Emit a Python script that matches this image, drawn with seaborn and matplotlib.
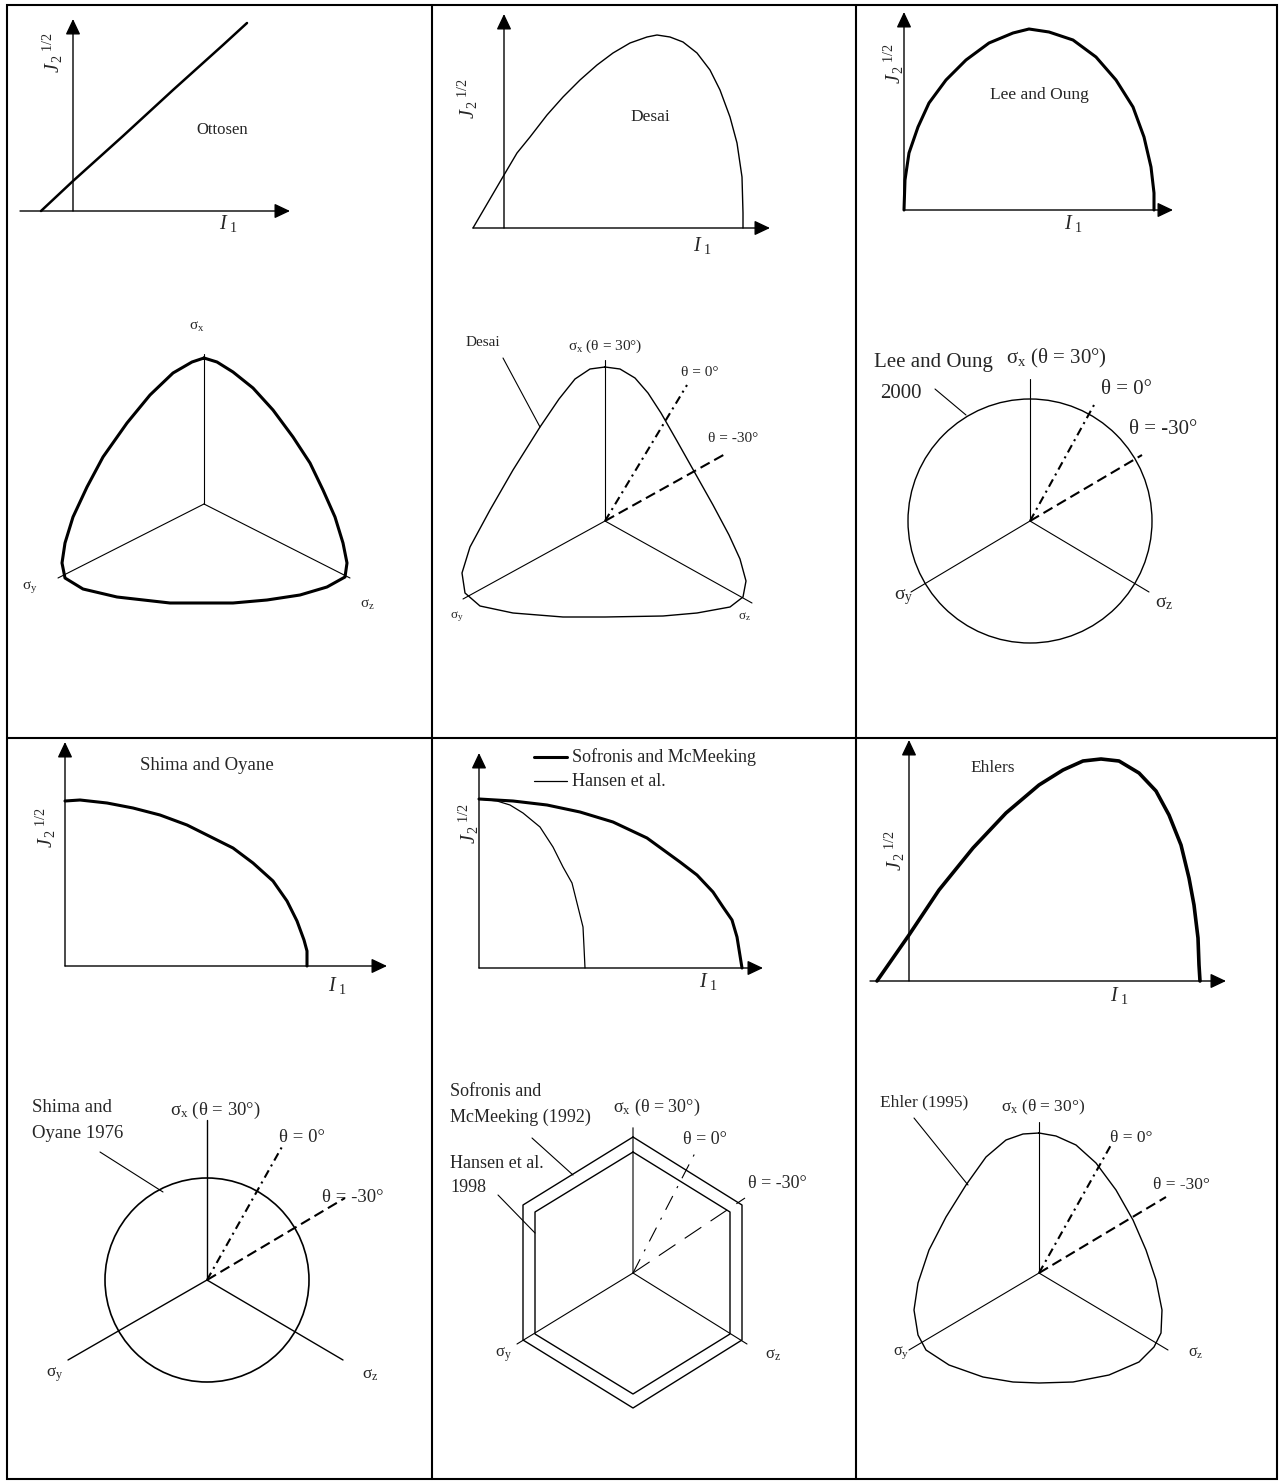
import matplotlib
matplotlib.use("Agg")
import matplotlib.pyplot as plt
from matplotlib.patches import Circle, Rectangle
import seaborn as sns

W, H = 1283, 1484
DPI = 100

sns.set_style("white")
plt.rcParams["font.family"] = ["Liberation Serif", "DejaVu Serif"]
plt.rcParams["mathtext.fontset"] = "custom"
plt.rcParams["mathtext.rm"] = "Liberation Serif"
plt.rcParams["mathtext.it"] = "Liberation Serif:italic"
plt.rcParams["mathtext.bf"] = "Liberation Serif:bold"

# ---------------------------------------------------------------------------
# Meridian traces (I1, sqrt(J2)) for each criterion
# ---------------------------------------------------------------------------
ottosen_i1 = [-32, 0, 50, 100, 150, 174]
ottosen_j2 = [0, 30, 75, 121, 166, 188]

desai_i1 = [-31, 0, 13, 26, 43, 59, 76, 93, 109, 126, 143, 153, 166, 179, 193, 206, 216, 226, 233, 238, 239, 239]
desai_j2 = [0, 53, 75, 91, 113, 131, 148, 163, 175, 185, 191, 193, 191, 186, 175, 158, 138, 111, 85, 51, 15, 0]

lee_i1 = [0, 1, 5, 14, 25, 42, 62, 85, 109, 125, 145, 169, 192, 212, 229, 240, 247, 250, 250]
lee_j2 = [0, 30, 57, 83, 107, 130, 150, 167, 177, 181, 178, 170, 153, 130, 103, 73, 43, 17, 0]

shima_i1 = [0, 15, 42, 68, 95, 122, 148, 168, 188, 208, 222, 232, 239, 242, 242]
shima_j2 = [165, 166, 163, 158, 151, 141, 128, 118, 103, 85, 65, 45, 26, 15, 0]

sofronis_i1 = [0, 34, 68, 101, 134, 168, 201, 218, 234, 244, 253, 258, 263]
sofronis_j2 = [169, 167, 163, 156, 146, 130, 106, 93, 76, 61, 48, 31, 0]

hansen_i1 = [0, 18, 31, 44, 61, 74, 84, 93, 99, 104, 105, 106]
hansen_j2 = [169, 167, 163, 155, 141, 121, 101, 85, 61, 41, 21, 0]

ehlers_i1 = [-32, -16, 0, 30, 64, 97, 130, 154, 174, 192, 210, 230, 247, 260, 272, 280, 285, 289, 290, 291]
ehlers_j2 = [0, 23, 46, 91, 133, 168, 196, 211, 220, 222, 220, 208, 190, 166, 136, 103, 76, 43, 16, 0]

# ---------------------------------------------------------------------------
# Deviatoric (pi-plane) traces, closed loops
# ---------------------------------------------------------------------------
ottosen_px = [0, 13, 29, 49, 69, 89, 106, 119, 131, 139, 143, 141, 123, 96, 63, 29, 0,
              -34, -87, -121, -139, -142, -139, -131, -117, -101, -77, -54, -31, -12, 0]
ottosen_py = [146, 142, 132, 116, 94, 67, 41, 14, -13, -39, -59, -73, -83, -91, -96, -99, -99,
              -99, -93, -85, -74, -59, -39, -13, 17, 47, 81, 109, 131, 142, 146]

desai_px = [0, 15, 30, 43, 56, 72, 90, 108, 124, 135, 141, 138, 125, 92, 58, 0,
            -42, -92, -125, -140, -143, -135, -115, -92, -65, -46, -30, -15, 0]
desai_py = [154, 152, 143, 128, 108, 80, 48, 16, -14, -38, -60, -76, -86, -92, -95, -96,
            -96, -92, -85, -72, -52, -26, 11, 51, 94, 122, 142, 152, 154]

ehlers_px = [0, 17, 37, 57, 77, 94, 107, 117, 123, 122, 115, 100, 70, 34, 0,
             -26, -56, -90, -113, -121, -125, -121, -110, -93, -73, -53, -33, -16, 0]
ehlers_py = [140, 137, 128, 110, 83, 53, 23, -7, -37, -60, -74, -89, -102, -109, -110,
             -109, -104, -92, -77, -62, -37, -10, 23, 56, 88, 116, 133, 139, 140]

lee_radius = 122
shima_radius = 102

sofronis_hex_x = [0, 109, 109, 0, -110, -110, 0]
sofronis_hex_y = [136, 68, -67, -135, -67, 68, 136]
hansen_hex_x = [0, 97, 97, 0, -98, -98, 0]
hansen_hex_y = [121, 61, -61, -121, -61, 61, 121]

# principal stress axes and Lode-angle rays: (sigma_x, sigma_y, sigma_z, theta=0, theta=-30)
ottosen_rays = [(0, 150), (-146, -74), (146, -74)]
desai_rays = [(0, 161), (-142, -78), (147, -82), (82, 136), (122, 68)]
lee_rays = [(0, 142), (-119, -71), (119, -71), (64, 116), (112, 66)]
shima_rays = [(0, 160), (-139, -80), (136, -80), (76, 135), (138, 82)]
sofronis_rays = [(0, 145), (-116, -71), (114, -71), (62, 120), (112, 75)]
ehlers_rays = [(0, 151), (-130, -77), (129, -77), (72, 128), (127, 76)]

SIGMA_X = r"σ$_{\mathrm{x}}$"
SIGMA_Y = r"σ$_{\mathrm{y}}$"
SIGMA_Z = r"σ$_{\mathrm{z}}$"
SIGMA_X_FULL = r"σ$_{\mathrm{x}}$ (θ = 30°)"
THETA_0 = "θ = 0°"
THETA_M30 = "θ = -30°"
I1_LABEL = r"$I_{\,\,1}$"
J2_LABEL = r"$J_{\,2}{}^{\ 1/2}$"

fig = plt.figure(figsize=(W / DPI, H / DPI), dpi=DPI, facecolor="white")

# table grid
frame = fig.add_axes([0, 0, 1, 1])
frame.set_xlim(0, W)
frame.set_ylim(H, 0)
frame.set_axis_off()
frame.add_patch(Rectangle((7, 5), 1270, 1474, fill=False, lw=1.5, ec="k"))
for xv in (432, 856):
    frame.plot([xv, xv], [5, 1479], color="k", lw=1.5)
frame.plot([7, 1277], [738, 738], color="k", lw=1.5)


def panel(box, origin):
    left, top, right, bottom = box
    ox, oy = origin
    ax = fig.add_axes([left / W, 1 - bottom / H, (right - left) / W, (bottom - top) / H])
    ax.set_xlim(left - ox, right - ox)
    ax.set_ylim(oy - bottom, oy - top)
    ax.set_axis_off()
    return ax


ARROW = dict(arrowstyle="-|>,head_length=0.95,head_width=0.45", color="k", lw=1.0,
             shrinkA=0, shrinkB=0, mutation_scale=10)


def meridian(ax, x_start, x_tip, y_tip, i1_pos, j2_pos):
    ax.annotate("", xy=(x_tip, 0), xytext=(x_start, 0), arrowprops=ARROW, annotation_clip=False)
    ax.annotate("", xy=(0, y_tip), xytext=(0, 0), arrowprops=ARROW, annotation_clip=False)
    ax.text(*i1_pos, I1_LABEL, ha="center", va="center", fontsize=14.5)
    ax.text(*j2_pos, J2_LABEL, ha="center", va="center", fontsize=14.5, rotation=90)


def curve(ax, x, y, lw):
    sns.lineplot(x=x, y=y, sort=False, estimator=None, color="k", lw=lw, ax=ax, legend=False)


def rays(ax, r, lw_axes=0.8, lw_theta=1.5, thin_theta=False, x_color="k"):
    ax.plot([0, r[0][0]], [0, r[0][1]], color=x_color, lw=lw_axes if x_color == "k" else 1.2)
    for (x, y) in r[1:3]:
        ax.plot([0, x], [0, y], color="k", lw=lw_axes)
    if len(r) > 3:
        if thin_theta:
            ax.plot([0, r[3][0]], [0, r[3][1]], color="k", lw=0.8, ls=(0, (14, 8, 2, 8)))
            ax.plot([0, r[4][0]], [0, r[4][1]], color="k", lw=0.8, ls=(0, (18, 10)))
        else:
            ax.plot([0, r[3][0]], [0, r[3][1]], color="k", lw=lw_theta, ls=(0, (4, 2.2, 1, 2.2)))
            ax.plot([0, r[4][0]], [0, r[4][1]], color="k", lw=lw_theta, ls=(0, (5, 2.5)))


# ---------------- Row 1 ----------------
# Ottosen meridian
ax = panel((10, 8, 430, 300), (73, 211))
meridian(ax, -53, 217, 192, (155, -12), (-20, 158))
curve(ax, ottosen_i1, ottosen_j2, 1.8)
ax.text(149, 81, "Ottosen", ha="center", va="center", fontsize=12)

# Desai meridian
ax = panel((434, 8, 854, 300), (504, 228))
meridian(ax, -31, 266, 214, (198, -18), (-36, 129))
curve(ax, desai_i1, desai_j2, 1.0)
ax.text(146, 111, "Desai", ha="center", va="center", fontsize=12.5)

# Lee and Oung meridian
ax = panel((858, 8, 1276, 300), (904, 210))
meridian(ax, 0, 269, 198, (169, -14), (-10, 146))
curve(ax, lee_i1, lee_j2, 2.2)
ax.text(135, 115, "Lee and Oung", ha="center", va="center", fontsize=12.5)

# Ottosen deviatoric
ax = panel((10, 300, 430, 735), (204, 504))
rays(ax, ottosen_rays)
curve(ax, ottosen_px, ottosen_py, 2.2)
ax.text(-7, 177, SIGMA_X, ha="center", va="center", fontsize=11)
ax.text(-174, -83, SIGMA_Y, ha="center", va="center", fontsize=11)
ax.text(163, -101, SIGMA_Z, ha="center", va="center", fontsize=11)

# Desai deviatoric
ax = panel((434, 300, 854, 735), (605, 521))
rays(ax, desai_rays)
curve(ax, desai_px, desai_py, 1.0)
ax.text(0, 175, SIGMA_X_FULL, ha="center", va="center", fontsize=11)
ax.text(95, 149, THETA_0, ha="center", va="center", fontsize=11)
ax.text(128, 83, THETA_M30, ha="center", va="center", fontsize=11)
ax.text(-122, 178, "Desai", ha="center", va="center", fontsize=11)
ax.plot([-102, -65], [163, 94], color="k", lw=0.8)
ax.text(-148, -96, SIGMA_Y, ha="center", va="center", fontsize=9.5)
ax.text(140, -96, SIGMA_Z, ha="center", va="center", fontsize=9.5)

# Lee and Oung deviatoric
ax = panel((858, 300, 1276, 735), (1030, 521))
rays(ax, lee_rays)
ax.add_patch(Circle((0, 0), lee_radius, fill=False, ec="k", lw=1.0))
ax.text(26, 163, SIGMA_X_FULL, ha="center", va="center", fontsize=15)
ax.text(-97, 158, "Lee and Oung", ha="center", va="center", fontsize=15)
ax.text(-129, 128, "2000", ha="center", va="center", fontsize=15)
ax.plot([-95, -64], [132, 106], color="k", lw=0.8)
ax.text(96, 131, THETA_0, ha="center", va="center", fontsize=15)
ax.text(133, 91, THETA_M30, ha="center", va="center", fontsize=15)
ax.text(-126, -76, SIGMA_Y, ha="center", va="center", fontsize=14)
ax.text(134, -82, SIGMA_Z, ha="center", va="center", fontsize=14)

# ---------------- Row 2 ----------------
# Shima and Oyane meridian
ax = panel((10, 742, 430, 1040), (65, 966))
meridian(ax, 0, 322, 224, (272, -20), (-19, 138))
curve(ax, shima_i1, shima_j2, 2.2)
ax.text(142, 201, "Shima and Oyane", ha="center", va="center", fontsize=13.5)

# Sofronis / Hansen meridian
ax = panel((434, 742, 854, 1040), (479, 968))
meridian(ax, 0, 284, 215, (229, -14), (-10, 144))
curve(ax, sofronis_i1, sofronis_j2, 2.2)
curve(ax, hansen_i1, hansen_j2, 0.9)
ax.plot([55, 88], [211, 211], color="k", lw=2.2)
ax.plot([55, 88], [187, 187], color="k", lw=0.9)
ax.text(93, 211, "Sofronis and McMeeking", ha="left", va="center", fontsize=13)
ax.text(93, 187, "Hansen et al.", ha="left", va="center", fontsize=13)

# Ehlers meridian
ax = panel((858, 742, 1276, 1040), (909, 981))
meridian(ax, -39, 317, 241, (210, -14), (-14, 130))
curve(ax, ehlers_i1, ehlers_j2, 2.6)
ax.text(84, 213, "Ehlers", ha="center", va="center", fontsize=12.5)

# Shima and Oyane deviatoric
ax = panel((10, 1040, 391, 1476), (207, 1280))
rays(ax, shima_rays, lw_axes=1.0)
ax.add_patch(Circle((0, 0), shima_radius, fill=False, ec="k", lw=1.2))
ax.text(-175, 173, "Shima and", ha="left", va="center", fontsize=13.5)
ax.text(-175, 147, "Oyane 1976", ha="left", va="center", fontsize=13.5)
ax.plot([-107, -44], [128, 88], color="k", lw=0.8)
ax.text(8, 170, SIGMA_X_FULL, ha="center", va="center", fontsize=13.5)
ax.text(95, 143, THETA_0, ha="center", va="center", fontsize=13.5)
ax.text(146, 83, THETA_M30, ha="center", va="center", fontsize=13.5, clip_on=True)
ax.text(-152, -95, SIGMA_Y, ha="center", va="center", fontsize=12.5)
ax.text(163, -95, SIGMA_Z, ha="center", va="center", fontsize=12.5)

# Sofronis / Hansen deviatoric
ax = panel((434, 1040, 854, 1476), (633, 1273))
rays(ax, sofronis_rays, thin_theta=True, x_color="#555555")
curve(ax, sofronis_hex_x, sofronis_hex_y, 1.0)
curve(ax, hansen_hex_x, hansen_hex_y, 1.0)
ax.text(-183, 181, "Sofronis and", ha="left", va="center", fontsize=13)
ax.text(-183, 156, "McMeeking (1992)", ha="left", va="center", fontsize=13)
ax.plot([-101, -60], [135, 98], color="k", lw=0.8)
ax.text(-183, 110, "Hansen et al.", ha="left", va="center", fontsize=13)
ax.text(-183, 85, "1998", ha="left", va="center", fontsize=13)
ax.plot([-135, -98], [78, 40], color="k", lw=0.8)
ax.text(24, 166, SIGMA_X_FULL, ha="center", va="center", fontsize=13)
ax.text(72, 133, THETA_0, ha="center", va="center", fontsize=13)
ax.text(144, 90, THETA_M30, ha="center", va="center", fontsize=13)
ax.text(-130, -82, SIGMA_Y, ha="center", va="center", fontsize=12)
ax.text(140, -82, SIGMA_Z, ha="center", va="center", fontsize=12)

# Ehlers deviatoric
ax = panel((858, 1040, 1276, 1476), (1039, 1273))
rays(ax, ehlers_rays)
curve(ax, ehlers_px, ehlers_py, 1.0)
ax.text(-115, 171, "Ehler (1995)", ha="center", va="center", fontsize=12.5)
ax.plot([-125, -71], [155, 88], color="k", lw=0.8)
ax.text(4, 166, SIGMA_X_FULL, ha="center", va="center", fontsize=12.5)
ax.text(92, 135, THETA_0, ha="center", va="center", fontsize=12.5)
ax.text(142, 88, THETA_M30, ha="center", va="center", fontsize=12.5)
ax.text(-138, -80, SIGMA_Y, ha="center", va="center", fontsize=11.5)
ax.text(157, -80, SIGMA_Z, ha="center", va="center", fontsize=11.5)

fig.savefig("out.png", dpi=DPI, facecolor="white")
